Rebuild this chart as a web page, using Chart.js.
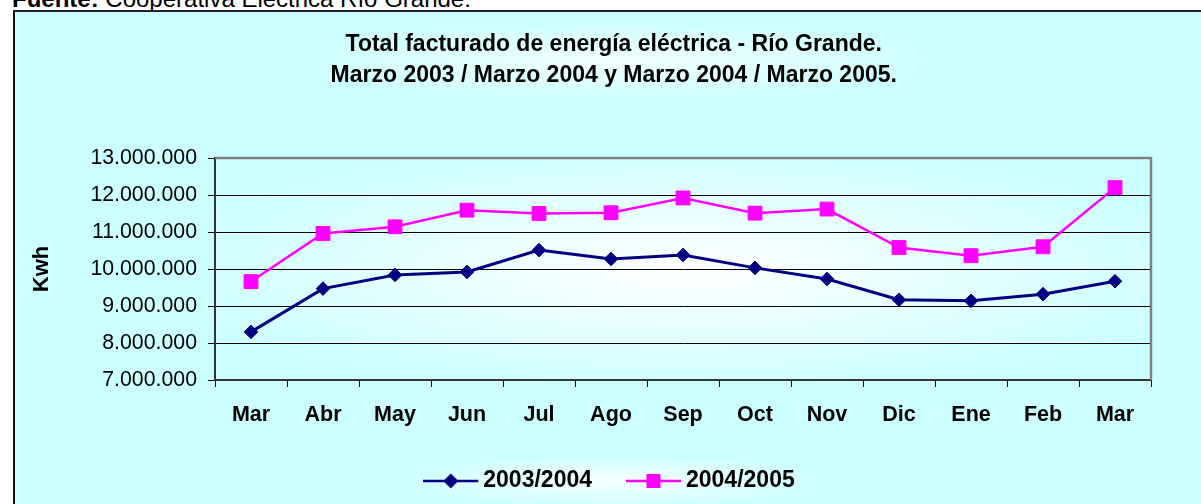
<!DOCTYPE html>
<html>
<head>
<meta charset="utf-8">
<script src="https://cdn.jsdelivr.net/npm/chart.js@4.4.1/dist/chart.umd.min.js"></script>
<style>
html,body{margin:0;padding:0;background:#fff;overflow:hidden;}
body{width:1201px;height:504px;position:relative;font-family:Arial,"Liberation Sans",sans-serif;}
.src{position:absolute;left:12px;top:-13px;font-size:24px;line-height:24px;color:#000;white-space:nowrap;}
.box{position:absolute;left:13px;top:10px;border-left:2px solid #111;border-top:2px solid #222;}
canvas{display:block;}
</style>
</head>
<body>
<div class="src"><b>Fuente:</b> Cooperativa Eléctrica Río Grande.</div>
<div class="box"><canvas id="c" width="1186" height="492"></canvas></div>
<script>
// datos (kWh facturados por mes)
const meses = ['Mar','Abr','May','Jun','Jul','Ago','Sep','Oct','Nov','Dic','Ene','Feb','Mar'];
const serie0304 = [8300000,9470000,9840000,9920000,10510000,10270000,10380000,10030000,9730000,9170000,9140000,9320000,9670000];
const serie0405 = [9660000,10960000,11140000,11590000,11500000,11520000,11920000,11510000,11620000,10580000,10360000,10600000,12200000];
const yMin = 7000000, yMax = 13000000, yStep = 1000000;
const titulo = ['Total facturado de energía eléctrica - Río Grande.','Marzo 2003 / Marzo 2004 y Marzo 2004 / Marzo 2005.'];
const nombres = ['2003/2004','2004/2005'];

const AZUL = '#000080', ROSA = '#FF00FF', CIAN = '#CCFFFF';
const FAM = 'Arial, "Liberation Sans", sans-serif';
Chart.defaults.font.family = FAM;
Chart.defaults.color = '#000';

function fmtMiles(v){ return String(v).replace(/\B(?=(\d{3})+(?!\d))/g,'.'); }

// legend marker: line with the point on it, like Excel
function marker(color, shape){
  const c = document.createElement('canvas'); c.width = 58; c.height = 20;
  const g = c.getContext('2d');
  g.strokeStyle = color; g.lineWidth = 2.5;
  g.beginPath(); g.moveTo(0,10); g.lineTo(55,10); g.stroke();
  g.fillStyle = color;
  g.beginPath();
  if (shape === 'diamond'){ g.moveTo(27.5,2.5); g.lineTo(35,10); g.lineTo(27.5,17.5); g.lineTo(20,10); g.closePath(); }
  else { g.rect(20.5,3,14,14); }
  g.fill();
  return c;
}
const marcas = [marker(AZUL,'diamond'), marker(ROSA,'square')];

function glow(ctx,x,y,w,h,inner,outer){
  ctx.save();
  ctx.beginPath(); ctx.rect(x,y,w,h); ctx.clip();
  ctx.translate(x+w/2,y+h/2); ctx.scale(w/2,h/2);
  const g = ctx.createRadialGradient(0,0,0,0,0,1.15);
  g.addColorStop(0,inner); g.addColorStop(1,outer);
  ctx.fillStyle = g; ctx.fillRect(-1,-1,2,2);
  ctx.restore();
}

const fondo = {
  id:'fondo',
  beforeDraw(chart){
    const {ctx, chartArea:a, width, height} = chart;
    ctx.save();
    ctx.fillStyle = CIAN; ctx.fillRect(0,0,width,height);
    // title band
    ctx.font = 'bold 23px ' + FAM;
    const tw = Math.max(...titulo.map(t=>ctx.measureText(t).width));
    glow(ctx, 602-tw/2-18, 13, tw+36, 72, '#F2FFFF', CIAN);
    // legend band
    const hb = chart.legend.legendHitBoxes;
    if (hb && hb.length){
      const l = hb[0].left-20, r = hb[hb.length-1].left+hb[hb.length-1].width+20;
      glow(ctx, l, hb[0].top-12, r-l, hb[0].height+24, '#F6FFFF', CIAN);
    }
    glow(ctx, a.left, a.top, a.right-a.left, a.bottom-a.top, '#FFFFFF', CIAN);
    ctx.restore();
  },
  beforeDatasetsDraw(chart){
    const {ctx, chartArea:a} = chart;
    ctx.save();
    ctx.strokeStyle = '#808080'; ctx.lineWidth = 2.5;
    ctx.beginPath(); ctx.moveTo(a.left,a.top); ctx.lineTo(a.right,a.top); ctx.lineTo(a.right,a.bottom); ctx.stroke();
    ctx.restore();
  }
};

new Chart(document.getElementById('c'), {
  type:'line',
  data:{
    labels: meses,
    datasets:[
      {label:nombres[0], data:serie0304, borderColor:AZUL, backgroundColor:AZUL, borderWidth:3,
       pointStyle:'rectRot', pointRadius:6.8, pointBorderWidth:1, pointBorderColor:AZUL, pointBackgroundColor:AZUL, tension:0},
      {label:nombres[1], data:serie0405, borderColor:ROSA, backgroundColor:ROSA, borderWidth:2.5,
       pointStyle:'rect', pointRadius:9.8, pointBorderWidth:1, pointBorderColor:ROSA, pointBackgroundColor:ROSA, tension:0}
    ]
  },
  options:{
    responsive:false, animation:false, devicePixelRatio:1,
    layout:{padding:{left:61.5, right:50, top:0, bottom:1.5}},
    plugins:{
      tooltip:{enabled:false},
      title:{display:true, text:titulo, color:'#000', font:{size:23, weight:'bold', lineHeight:31/23}, padding:{top:17, bottom:67}},
      legend:{position:'bottom',
        labels:{usePointStyle:true, pointStyleWidth:39, padding:43.5, color:'#000', font:{size:23, weight:'bold'},
          generateLabels(chart){
            const items = Chart.defaults.plugins.legend.labels.generateLabels(chart);
            items.forEach((it,i)=>{ it.pointStyle = marcas[i]; });
            return items;
          }}}
    },
    scales:{
      x:{offset:true,
         grid:{offset:true, drawOnChartArea:false, tickLength:7, color:'#000'},
         border:{color:'#333', width:2},
         ticks:{color:'#000', padding:15, font:{size:21.5, weight:'bold'}, maxRotation:0, autoSkip:false},
         afterFit(s){ s.height = 46; }},
      y:{min:yMin, max:yMax,
         grid:{color:'#000', lineWidth:1, tickLength:7, tickColor:'#000'},
         border:{color:'#333', width:2},
         ticks:{stepSize:yStep, color:'#000', padding:11, font:{size:21.3}, callback:v=>fmtMiles(v)},
         title:{display:true, text:'Kwh', color:'#000', font:{size:22, weight:'bold', lineHeight:1.2}, padding:{top:-47.7, bottom:0}},
         afterFit(s){ s.width = 138.5; }}
    }
  },
  plugins:[fondo]
});
</script>
</body>
</html>
